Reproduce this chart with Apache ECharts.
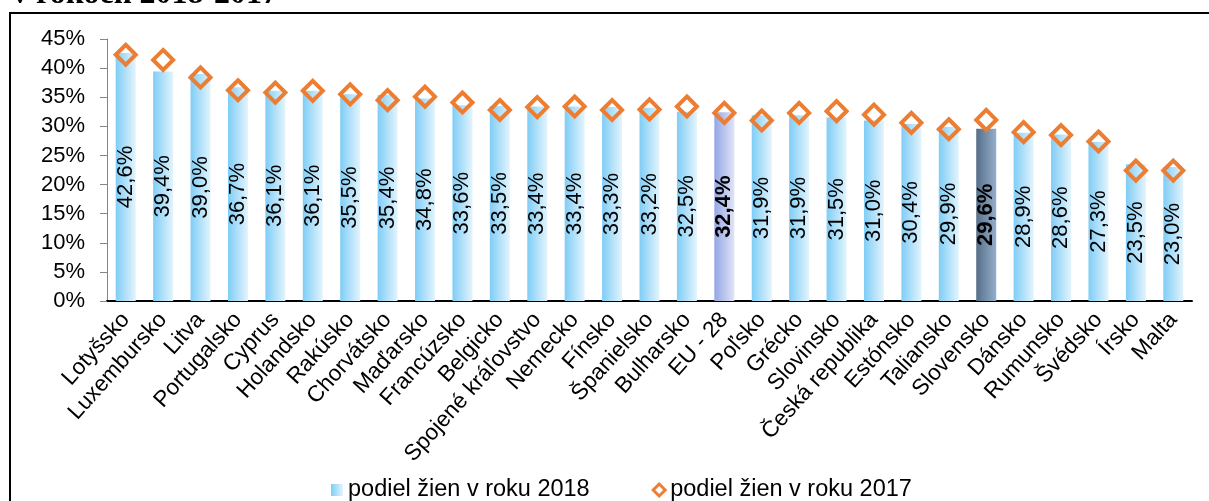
<!DOCTYPE html>
<html>
<head>
<meta charset="utf-8">
<script src="https://cdn.jsdelivr.net/npm/echarts@6/dist/echarts.min.js"></script>
<style>
  html, body { margin: 0; padding: 0; background: #fff; }
  #chart { width: 1209px; height: 501px; }
</style>
</head>
<body>
<div id="chart"></div>
<script>
var countries = ['Lotyšsko', 'Luxembursko', 'Litva', 'Portugalsko', 'Cyprus', 'Holandsko', 'Rakúsko', 'Chorvátsko',
  'Maďarsko', 'Francúzsko', 'Belgicko', 'Spojené kráľovstvo', 'Nemecko', 'Fínsko', 'Španielsko', 'Bulharsko',
  'EU - 28', 'Poľsko', 'Grécko', 'Slovinsko', 'Česká republika', 'Estónsko', 'Taliansko', 'Slovensko',
  'Dánsko', 'Rumunsko', 'Švédsko', 'Írsko', 'Malta'];
var share2018 = [42.6, 39.4, 39.0, 36.7, 36.1, 36.1, 35.5, 35.4, 34.8, 33.6, 33.5, 33.4, 33.4, 33.3, 33.2, 32.5,
  32.4, 31.9, 31.9, 31.5, 31.0, 30.4, 29.9, 29.6, 28.9, 28.6, 27.3, 23.5, 23.0];
var share2017 = [42.3, 41.4, 38.4, 36.2, 35.8, 36.1, 35.5, 34.5, 35.1, 34.1, 32.8, 33.3, 33.4, 32.8, 32.9, 33.4,
  32.3, 31.0, 32.3, 32.6, 32.0, 30.6, 29.5, 31.1, 29.0, 28.5, 27.4, 22.4, 22.4];
var yTicks = ['0%', '5%', '10%', '15%', '20%', '25%', '30%', '35%', '40%', '45%'];
var name2018 = 'podiel žien v roku 2018';
var name2017 = 'podiel žien v roku 2017';

var chart = echarts.init(document.getElementById('chart'));
var font = 'Arial, "Liberation Sans", sans-serif';

function grad(a, b) {
  return new echarts.graphic.LinearGradient(0, 0, 1, 0, [{offset: 0, color: a}, {offset: 1, color: b}]);
}

var barData = [];
for (var i = 0; i < countries.length; i++) {
  var item = {value: share2018[i]};
  if (countries[i] == 'EU - 28') {
    item.itemStyle = {color: grad('#93a6e6', '#e0e4f6')};
    item.label = {fontWeight: 'bold'};
  } else if (countries[i] == 'Slovensko') {
    item.itemStyle = {color: grad('#566e88', '#94afcc')};
    item.label = {fontWeight: 'bold'};
  }
  barData.push(item);
}

var option = {
  animation: false,
  textStyle: {fontFamily: font},
  graphic: [
    {
      type: 'rect',
      shape: {x: 10, y: 13, width: 1400, height: 700},
      style: {fill: 'none', stroke: '#000', lineWidth: 2},
      silent: true
    },
    {
      type: 'text',
      left: 12, top: -21,
      style: {text: 'v rokoch 2018-2017', font: 'bold 32px "Liberation Serif", "Times New Roman", serif', fill: '#000'}
    }
  ],
  grid: {left: 107, right: 17, top: 39, bottom: 200},
  legend: {
    left: 326, top: 473,
    itemGap: 62,
    itemWidth: 12, itemHeight: 12,
    textStyle: {fontSize: 23.5, color: '#000', fontFamily: font},
    data: [
      {name: name2018, icon: 'rect', itemStyle: {color: grad('#7fcdf6', '#e3f4fd')}},
      {name: name2017, icon: 'diamond', itemStyle: {borderWidth: 3}}
    ]
  },
  xAxis: {
    type: 'category',
    data: countries,
    axisLine: {lineStyle: {color: '#000', width: 2}},
    axisTick: {length: 6, lineStyle: {color: '#000', width: 2}},
    axisLabel: {rotate: 48, fontSize: 22.5, color: '#000', margin: 15, interval: 0}
  },
  yAxis: {
    type: 'value',
    min: 0, max: 45, interval: 5,
    splitLine: {show: false},
    axisLine: {show: true, lineStyle: {color: '#868686', width: 1}},
    axisTick: {show: true, length: 7, lineStyle: {color: '#868686'}},
    axisLabel: {
      fontSize: 22, color: '#000', margin: 22,
      formatter: function(v) { return yTicks[Math.round(v / 5)]; }
    }
  },
  series: [
    {
      name: name2018,
      type: 'bar',
      data: barData,
      barWidth: 20,
      itemStyle: {color: grad('#7fcdf6', '#e3f4fd')},
      label: {
        show: true,
        position: 'inside',
        rotate: 90,
        fontSize: 22,
        color: '#000',
        fontFamily: font,
        formatter: function(p) { return p.value.toFixed(1).replace('.', ',') + '%'; }
      },
      z: 2
    },
    {
      name: name2017,
      type: 'line',
      data: share2017,
      symbol: 'diamond',
      symbolSize: 20,
      lineStyle: {width: 0, opacity: 0},
      itemStyle: {color: 'rgba(255,255,255,0)', borderColor: '#ed7d31', borderWidth: 4},
      z: 3
    }
  ]
};
chart.setOption(option);
</script>
</body>
</html>
